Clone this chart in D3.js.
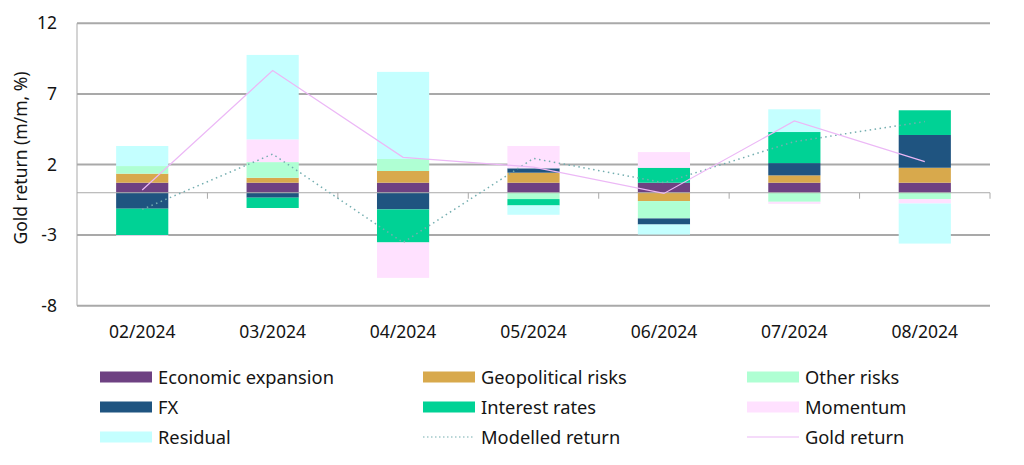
<!DOCTYPE html>
<html>
<head>
<meta charset="utf-8">
<script src="https://cdn.jsdelivr.net/npm/d3@7"></script>
<style>
  html, body { margin: 0; padding: 0; background: #fff; }
  svg { display: block; font-family: "Noto Sans", "Open Sans", sans-serif; }
</style>
</head>
<body>
<svg id="chart" width="1024" height="465"></svg>
<script>
const categories = ["02/2024", "03/2024", "04/2024", "05/2024", "06/2024", "07/2024", "08/2024"];
const econExpansion = [0.71, 0.71, 0.71, 0.71, 0.71, 0.71, 0.71];
const geopolitical  = [0.64, 0.35, 0.83, 0.71, -0.59, 0.52, 1.06];
const otherRisks    = [0.54, 1.11, 0.85, -0.45, -1.23, -0.64, -0.45];
const fx            = [-1.13, -0.35, -1.18, 0.31, -0.43, 0.87, 2.32];
const interestRates = [-1.87, -0.73, -2.34, -0.45, 1.06, 2.20, 1.75];
const momentum      = [-0.05, 1.61, -2.51, 1.58, 1.11, -0.15, -0.31];
const residual      = [1.42, 5.98, 6.17, -0.66, -0.71, 1.61, -2.84];
const modelledReturn = [-1.18, 2.74, -3.52, 2.43, 0.71, 3.62, 5.04];
const goldReturn     = [0.19, 8.65, 2.51, 1.82, -0.05, 5.08, 2.20];
const yTicks = [12, 7, 2, -3, -8];

const seriesNames = ["Economic expansion", "Geopolitical risks", "Other risks", "FX", "Interest rates", "Momentum", "Residual"];
const seriesValues = [econExpansion, geopolitical, otherRisks, fx, interestRates, momentum, residual];
const colors = {
  "Economic expansion": "#6E4182",
  "Geopolitical risks": "#D8A94C",
  "Other risks": "#AFFFD3",
  "FX": "#1F5480",
  "Interest rates": "#00D295",
  "Momentum": "#FFE1FF",
  "Residual": "#C4FFFF"
};
const modelledColor = "#74aeb0";
const goldColor = "#ecb8f6";

const rows = categories.map((c, i) => {
  const r = { cat: c };
  seriesNames.forEach((s, k) => r[s] = seriesValues[k][i]);
  return r;
});

const svg = d3.select("#chart");
const x = d3.scaleBand().domain(categories).range([77, 990]).paddingInner(0.6).paddingOuter(0.3);
const y = d3.scaleLinear().domain([-8, 12]).range([305.7, 23.3]);

// gridlines
svg.append("g").selectAll("line").data(yTicks).join("line")
  .attr("x1", 77).attr("x2", 990)
  .attr("y1", d => y(d)).attr("y2", d => y(d))
  .attr("stroke", "#a9a9a9").attr("stroke-width", 2);

// y labels
svg.append("g").selectAll("text").data(yTicks).join("text")
  .attr("x", 57).attr("y", d => y(d) + 6)
  .attr("text-anchor", "end")
  .attr("font-size", 17.5).attr("fill", "#141414")
  .text(d => d);

// y title
svg.append("text")
  .attr("transform", "translate(27,158) rotate(-90)")
  .attr("text-anchor", "middle")
  .attr("font-size", 17.5).attr("fill", "#141414")
  .text("Gold return (m/m, %)");

// stacked bars
const stack = d3.stack().keys(seriesNames).offset(d3.stackOffsetDiverging);
const stacked = stack(rows);
svg.append("g").selectAll("g").data(stacked).join("g")
  .attr("fill", d => colors[d.key])
  .selectAll("rect").data(d => d).join("rect")
  .attr("x", d => x(d.data.cat))
  .attr("width", x.bandwidth())
  .attr("y", d => y(Math.max(d[0], d[1])))
  .attr("height", d => Math.abs(y(d[0]) - y(d[1])));

// zero axis line + ticks
svg.append("line")
  .attr("x1", 77).attr("x2", 990).attr("y1", y(0)).attr("y2", y(0))
  .attr("stroke", "#a9a9a9").attr("stroke-width", 1);
const boundaries = categories.map(c => x(c) - x.step() * x.paddingInner() / 2).slice(1).concat([990]);
svg.append("g").selectAll("line").data(boundaries).join("line")
  .attr("x1", d => d).attr("x2", d => d)
  .attr("y1", y(0)).attr("y2", y(0) + 6)
  .attr("stroke", "#a9a9a9").attr("stroke-width", 1);
// y axis line
svg.append("line")
  .attr("x1", 77).attr("x2", 77).attr("y1", y(12)).attr("y2", y(-8))
  .attr("stroke", "#a9a9a9").attr("stroke-width", 1);

// lines
const cx = c => x(c) + x.bandwidth() / 2;
const line = d3.line().x((d, i) => cx(categories[i])).y(d => y(d));
svg.append("path").datum(modelledReturn)
  .attr("d", line).attr("fill", "none")
  .attr("stroke", modelledColor).attr("stroke-width", 1.5)
  .attr("stroke-dasharray", "1.5,3.5");
svg.append("path").datum(goldReturn)
  .attr("d", line).attr("fill", "none")
  .attr("stroke", goldColor).attr("stroke-width", 1.2);

// x labels
svg.append("g").selectAll("text").data(categories).join("text")
  .attr("x", d => cx(d)).attr("y", 338)
  .attr("text-anchor", "middle")
  .attr("font-size", 17.5).attr("fill", "#141414")
  .text(d => d);

// legend
const legendItems = [
  { name: "Economic expansion", type: "rect" },
  { name: "Geopolitical risks", type: "rect" },
  { name: "Other risks", type: "rect" },
  { name: "FX", type: "rect" },
  { name: "Interest rates", type: "rect" },
  { name: "Momentum", type: "rect" },
  { name: "Residual", type: "rect" },
  { name: "Modelled return", type: "dotted" },
  { name: "Gold return", type: "line" }
];
const colX = [100, 423, 747];
const rowY = [377, 407, 437];
const lg = svg.append("g").selectAll("g").data(legendItems).join("g")
  .attr("transform", (d, i) => `translate(${colX[i % 3]},${rowY[Math.floor(i / 3)]})`);
lg.filter(d => d.type === "rect").append("rect")
  .attr("x", 0).attr("y", -5.5).attr("width", 52).attr("height", 11)
  .attr("fill", d => colors[d.name]);
lg.filter(d => d.type === "dotted").append("line")
  .attr("x1", 0).attr("x2", 52).attr("y1", 0).attr("y2", 0)
  .attr("stroke", modelledColor).attr("stroke-width", 1.2).attr("stroke-dasharray", "1.5,2.5");
lg.filter(d => d.type === "line").append("line")
  .attr("x1", 0).attr("x2", 52).attr("y1", 0).attr("y2", 0)
  .attr("stroke", goldColor).attr("stroke-width", 1.2);
lg.append("text")
  .attr("x", 58).attr("y", 6.5)
  .attr("font-size", 18.3).attr("fill", "#141414")
  .text(d => d.name);
</script>
</body>
</html>
